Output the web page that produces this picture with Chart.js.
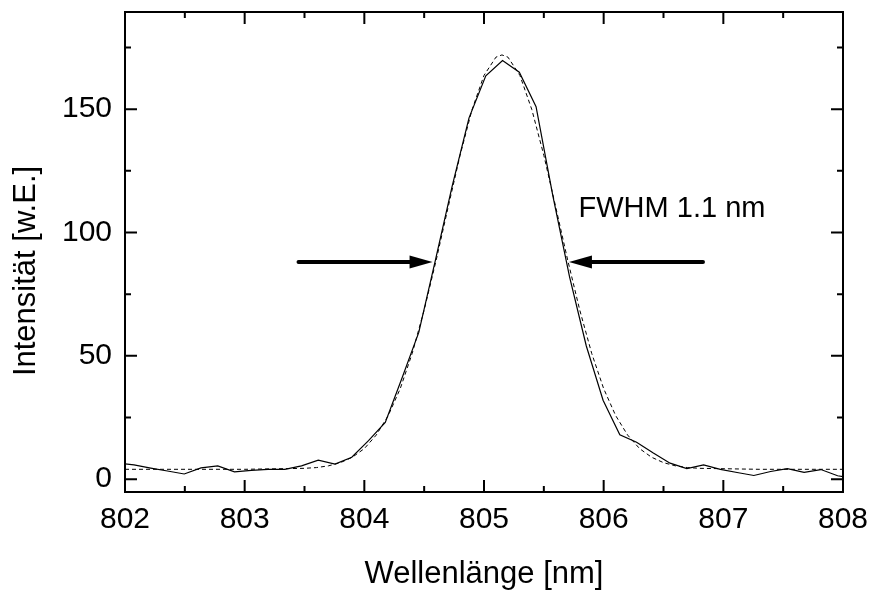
<!DOCTYPE html>
<html>
<head>
<meta charset="utf-8">
<title>Wellenlänge</title>
<script src="https://cdn.jsdelivr.net/npm/chart.js@4.4.1/dist/chart.umd.min.js"></script>
<style>
  html, body { margin: 0; padding: 0; background: #fff; }
  canvas { display: block; }
</style>
</head>
<body>
<canvas id="spectrum" width="872" height="590"></canvas>
<script>
'use strict';

// measured spectrum (solid line), one point every ~0.14 nm
const wavelength = [
  801.935, 802.075, 802.215, 802.355, 802.495, 802.635, 802.775, 802.915,
  803.055, 803.195, 803.335, 803.475, 803.615, 803.755, 803.895, 804.035,
  804.175, 804.315, 804.455, 804.595, 804.735, 804.875, 805.015, 805.155,
  805.295, 805.435, 805.575, 805.715, 805.855, 805.995, 806.135, 806.275,
  806.415, 806.555, 806.695, 806.835, 806.975, 807.115, 807.255, 807.395,
  807.535, 807.675, 807.815, 807.955, 808.095
];
const intensity = [
  6.6, 5.8, 4.5, 3.3, 2.1, 4.6, 5.4, 3.0,
  3.6, 4.0, 4.0, 5.4, 7.7, 6.1, 8.9, 15.6,
  23.0, 41.0, 59.5, 89.0, 119.0, 146.5, 163.5, 169.7,
  165.0, 151.0, 115.0, 82.0, 54.0, 32.0, 18.0, 15.0,
  10.6, 6.5, 4.3, 5.8, 4.0, 2.7, 1.5, 3.1,
  4.3, 2.8, 3.9, 1.4, 0.2
];

// fit curve (dashed line)
const fitWavelength = [
  802.0, 803.0, 803.5, 803.6, 803.7, 803.8, 803.9, 804.0, 804.1, 804.2,
  804.3, 804.4, 804.5, 804.6, 804.7, 804.8, 804.9, 805.0, 805.1, 805.15,
  805.2, 805.3, 805.4, 805.5, 805.6, 805.7, 805.8, 805.9, 806.0, 806.1,
  806.2, 806.3, 806.4, 806.5, 806.6, 806.7, 806.8, 807.3, 808.0
];
const fitIntensity = [
  4.0, 4.0, 4.4, 4.7, 5.4, 6.7, 8.9, 12.4, 17.9, 25.8,
  36.7, 51.0, 68.6, 88.7, 110.2, 131.3, 149.8, 163.7, 171.1, 172.0,
  171.1, 163.7, 149.8, 131.3, 110.2, 88.7, 68.6, 51.0, 36.7, 25.8,
  17.9, 12.4, 8.9, 6.7, 5.4, 4.7, 4.4, 4.0, 4.0
];

const xMajorTicks = [802, 803, 804, 805, 806, 807, 808];
const xMinorTicks = [802.5, 803.5, 804.5, 805.5, 806.5, 807.5];
const yMajorTicks = [0, 50, 100, 150];
const yMinorTicks = [25, 75, 125, 175];

// FWHM arrows sit at half maximum, [tail, tip] in nm
const fwhmLevel = 88;
const leftArrow = [803.45, 804.57];
const rightArrow = [806.83, 805.71];
const fwhmText = 'FWHM 1.1 nm';
const fwhmTextAt = [805.79, 106.4];

const xTitle = 'Wellenlänge [nm]';
const yTitle = 'Intensität [w.E.]';

const FONT = "'Liberation Sans', Arial, sans-serif";

const toPoints = (xs, ys) => xs.map((x, i) => ({ x, y: ys[i] }));

const drawArrow = (ctx, x0, x1, y) => {
  const dir = Math.sign(x1 - x0);
  const headLen = 23;
  const headHalf = 6.5;
  ctx.beginPath();
  ctx.lineWidth = 4;
  ctx.lineCap = 'round';
  ctx.moveTo(x0, y);
  ctx.lineTo(x1 - dir * headLen, y);
  ctx.stroke();
  ctx.beginPath();
  ctx.moveTo(x1, y);
  ctx.lineTo(x1 - dir * headLen, y - headHalf);
  ctx.lineTo(x1 - dir * headLen, y + headHalf);
  ctx.closePath();
  ctx.fill();
};

// frame with inward ticks on all four sides, arrows and texts
const framePlugin = {
  id: 'frame',
  afterDraw(chart) {
    const { ctx, chartArea: area, scales: { x, y } } = chart;
    ctx.save();
    ctx.strokeStyle = '#000';
    ctx.fillStyle = '#000';
    ctx.lineWidth = 2;
    ctx.lineCap = 'butt';
    ctx.strokeRect(area.left, area.top, area.right - area.left, area.bottom - area.top);

    const tick = (values, len, vertical) => {
      values.forEach((v) => {
        ctx.beginPath();
        if (vertical) {
          const px = x.getPixelForValue(v);
          ctx.moveTo(px, area.bottom);
          ctx.lineTo(px, area.bottom - len);
          ctx.moveTo(px, area.top);
          ctx.lineTo(px, area.top + len);
        } else {
          const py = y.getPixelForValue(v);
          ctx.moveTo(area.left, py);
          ctx.lineTo(area.left + len, py);
          ctx.moveTo(area.right, py);
          ctx.lineTo(area.right - len, py);
        }
        ctx.stroke();
      });
    };
    tick(xMajorTicks, 12, true);
    tick(xMinorTicks, 6, true);
    tick(yMajorTicks, 12, false);
    tick(yMinorTicks, 6, false);

    const ay = y.getPixelForValue(fwhmLevel);
    drawArrow(ctx, x.getPixelForValue(leftArrow[0]), x.getPixelForValue(leftArrow[1]), ay);
    drawArrow(ctx, x.getPixelForValue(rightArrow[0]), x.getPixelForValue(rightArrow[1]), ay);

    ctx.font = `29px ${FONT}`;
    ctx.textBaseline = 'alphabetic';
    ctx.textAlign = 'left';
    ctx.fillText(fwhmText, x.getPixelForValue(fwhmTextAt[0]), y.getPixelForValue(fwhmTextAt[1]));

    ctx.font = `31px ${FONT}`;
    ctx.textAlign = 'center';
    ctx.fillText(xTitle, (area.left + area.right) / 2, 583);

    ctx.translate(35, 271);
    ctx.rotate(-Math.PI / 2);
    ctx.fillText(yTitle, 0, 0);
    ctx.restore();
  }
};

const tickFont = { family: FONT, size: 30 };

// eslint-disable-next-line no-new
new Chart(document.getElementById('spectrum'), {
  type: 'line',
  data: {
    datasets: [{
      label: 'Messung',
      data: toPoints(wavelength, intensity),
      borderColor: '#000',
      borderWidth: 1.2,
      pointRadius: 0,
      tension: 0
    }, {
      label: 'Fit',
      data: toPoints(fitWavelength, fitIntensity),
      borderColor: '#000',
      borderWidth: 1,
      borderDash: [4, 3],
      pointRadius: 0,
      tension: 0
    }]
  },
  options: {
    responsive: false,
    animation: false,
    devicePixelRatio: 1,
    layout: { padding: { top: 12, right: 29, left: 0, bottom: 0 } },
    plugins: {
      legend: { display: false },
      tooltip: { enabled: false }
    },
    scales: {
      x: {
        type: 'linear',
        min: 802,
        max: 808,
        grid: { display: false, drawTicks: false },
        border: { display: false },
        ticks: {
          color: '#000',
          font: tickFont,
          padding: 10,
          maxRotation: 0,
          callback: (v) => String(v)
        },
        afterBuildTicks: (scale) => {
          scale.ticks = xMajorTicks.map((value) => ({ value }));
        },
        afterFit: (scale) => {
          scale.height = 98;
          scale.paddingLeft = 0;
          scale.paddingRight = 0;
        }
      },
      y: {
        type: 'linear',
        min: -5.2,
        max: 189.4,
        grid: { display: false, drawTicks: false },
        border: { display: false },
        ticks: {
          color: '#000',
          font: tickFont,
          padding: 13,
          callback: (v) => String(v)
        },
        afterBuildTicks: (scale) => {
          scale.ticks = yMajorTicks.map((value) => ({ value }));
        },
        afterFit: (scale) => {
          scale.width = 125;
          scale.paddingTop = 0;
          scale.paddingBottom = 0;
        }
      }
    }
  },
  plugins: [framePlugin]
});
</script>
</body>
</html>
